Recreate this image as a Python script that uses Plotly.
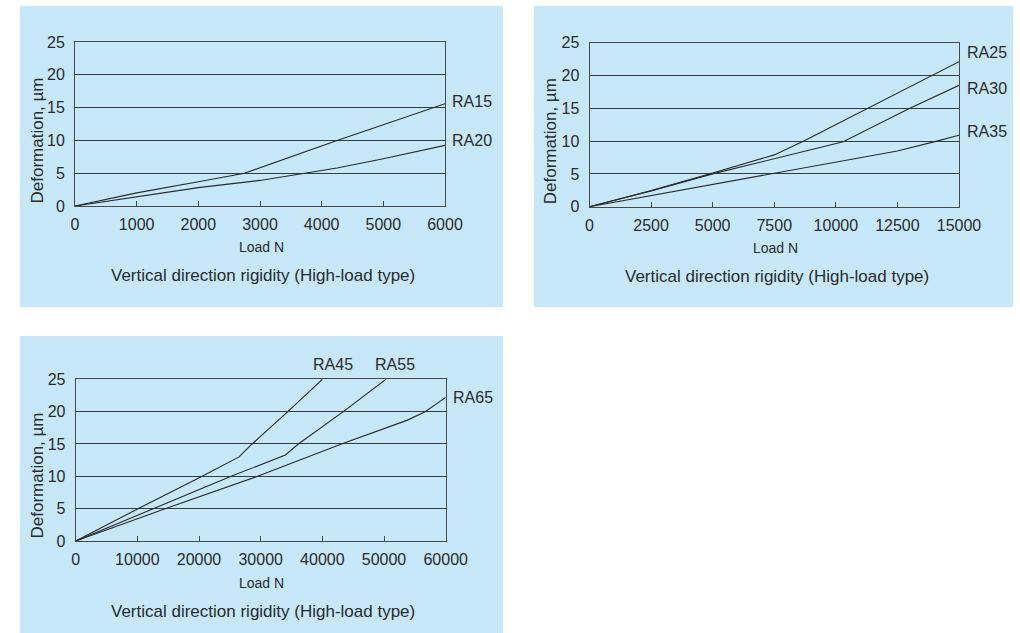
import plotly.graph_objects as go

# ---------------- data ----------------
# Panel 1 (RA15, RA20)
ra15_x = [0, 1000, 2000, 2750, 4250, 5000, 6000]
ra15_y = [0, 2.0, 3.7, 5.0, 10.0, 12.4, 15.6]
ra20_x = [0, 1000, 2000, 3000, 3700, 4250, 5000, 6000]
ra20_y = [0, 1.4, 2.8, 3.9, 5.0, 5.8, 7.2, 9.25]

# Panel 2 (RA25, RA30, RA35)
ra25_x = [0, 2500, 5000, 7500, 8700, 11300, 13900, 15000]
ra25_y = [0, 2.45, 5.15, 7.9, 10.0, 15.0, 20.0, 22.1]
ra30_x = [0, 2500, 5000, 7500, 10300, 12900, 15000]
ra30_y = [0, 2.4, 5.0, 7.35, 9.9, 14.8, 18.5]
ra35_x = [0, 2500, 5000, 7500, 10000, 12500, 14100, 15000]
ra35_y = [0, 1.7, 3.5, 5.1, 6.8, 8.5, 10.0, 10.9]

# Panel 3 (RA45, RA55, RA65)
ra45_x = [0, 10100, 20500, 25000, 26500, 28600, 34400, 40000]
ra45_y = [0, 5.0, 10.0, 12.25, 13.0, 15.0, 20.0, 25.0]
ra55_x = [0, 12500, 25200, 34000, 36100, 43400, 50300]
ra55_y = [0, 5.0, 10.0, 13.3, 15.0, 20.0, 25.0]
ra65_x = [0, 14500, 29500, 43100, 53700, 56600, 60000]
ra65_y = [0, 5.0, 10.0, 15.0, 18.65, 19.95, 22.2]

y_ticks = [0, 5, 10, 15, 20, 25]
x_ticks_1 = [0, 1000, 2000, 3000, 4000, 5000, 6000]
x_ticks_2 = [0, 2500, 5000, 7500, 10000, 12500, 15000]
x_ticks_3 = [0, 10000, 20000, 30000, 40000, 50000, 60000]

x_title = "Load N"
y_title = "Deformation, µm"
subtitle = "Vertical direction rigidity (High-load type)"

# ---------------- layout helpers ----------------
W, H = 1020, 633
BG = "#c6e8f8"
LINE = "#2a2a2a"
TXT = "#2b2b2b"
FONT = "Arial, Liberation Sans, Helvetica, sans-serif"


def px_x(p):
    return p / W


def px_y(p):
    return 1 - p / H


fig = go.Figure()

panels = [
    dict(ax="", box=(75, 445, 42, 206), bg=(20, 503, 6, 307),
         xr=6000, xt=x_ticks_1,
         series=[("RA15", ra15_x, ra15_y), ("RA20", ra20_x, ra20_y)],
         labels=[("RA15", 450, 101.7, "left"), ("RA20", 450, 140.7, "left")],
         title_y=(246.7, 275)),
    dict(ax="2", box=(589.5, 959, 42.7, 206.7), bg=(534, 1013, 6, 307),
         xr=15000, xt=x_ticks_2,
         series=[("RA25", ra25_x, ra25_y), ("RA30", ra30_x, ra30_y), ("RA35", ra35_x, ra35_y)],
         labels=[("RA25", 964.5, 52.3, "left"), ("RA30", 964.5, 88.3, "left"), ("RA35", 964.5, 131, "left")],
         title_y=(247.5, 276)),
    dict(ax="3", box=(75.7, 445.7, 379.3, 541), bg=(20, 503, 336, 633),
         xr=60000, xt=x_ticks_3,
         series=[("RA45", ra45_x, ra45_y), ("RA55", ra55_x, ra55_y), ("RA65", ra65_x, ra65_y)],
         labels=[("RA45", 332.7, 364.3, "center"), ("RA55", 395, 364.3, "center"), ("RA65", 450.5, 397.3, "left")],
         title_y=(583.3, 611)),
]

shapes = []
annotations = []
for p in panels:
    sfx = p["ax"]
    xa = "x" + sfx
    ya = "y" + sfx
    x0, x1, y0, y1 = p["box"]
    bx0, bx1, by0, by1 = p["bg"]
    shapes.append(dict(type="rect", xref="paper", yref="paper", layer="below",
                       x0=px_x(bx0), x1=px_x(bx1), y0=px_y(by1), y1=px_y(by0),
                       fillcolor=BG, line=dict(width=0)))
    for name, xs, ys in p["series"]:
        fig.add_trace(go.Scatter(x=xs, y=ys, mode="lines", name=name, xaxis=xa, yaxis=ya,
                                 line=dict(color=LINE, width=1.1), showlegend=False,
                                 hoverinfo="skip"))
    axis_common = dict(showline=True, mirror=True, linecolor="#4a4a4a", linewidth=1,
                       zeroline=False, automargin=False, fixedrange=True,
                       tickfont=dict(family=FONT, size=16, color=TXT))
    fig.layout["xaxis" + sfx] = dict(
        axis_common, domain=[px_x(x0), px_x(x1)], range=[0, p["xr"]],
        tickvals=p["xt"], ticktext=[str(v) for v in p["xt"]],
        ticks="inside", ticklen=5, tickcolor="#4a4a4a", tickwidth=1,
        showgrid=False, anchor=ya, ticklabelstandoff=4)
    fig.layout["yaxis" + sfx] = dict(
        axis_common, domain=[px_y(y1), px_y(y0)], range=[0, 25],
        tickvals=y_ticks, ticktext=[str(v) for v in y_ticks],
        ticks="", showgrid=True, gridcolor="#3a3a3a", gridwidth=1,
        anchor=xa, ticklabelstandoff=6)
    cx = (x0 + x1) / 2
    annotations.append(dict(text=x_title, xref="paper", yref="paper", x=px_x(cx + 1),
                            y=px_y(p["title_y"][0]), xanchor="center", yanchor="middle",
                            showarrow=False, font=dict(family=FONT, size=14, color=TXT)))
    annotations.append(dict(text=subtitle, xref="paper", yref="paper", x=px_x(cx + 2.5),
                            y=px_y(p["title_y"][1]), xanchor="center", yanchor="middle",
                            showarrow=False, font=dict(family=FONT, size=17, color=TXT)))
    annotations.append(dict(text=y_title, xref="paper", yref="paper", x=px_x(bx0 + 16.5),
                            y=px_y(y1), xanchor="center", yanchor="bottom", textangle=-90,
                            showarrow=False, font=dict(family=FONT, size=17, color=TXT)))
    for txt, lx, ly, anc in p["labels"]:
        annotations.append(dict(text=txt, xref="paper", yref="paper", x=px_x(lx),
                                y=px_y(ly), xanchor=anc, yanchor="middle", showarrow=False,
                                font=dict(family=FONT, size=16, color=TXT)))

fig.update_layout(width=W, height=H,
                  margin=dict(l=0, r=0, t=0, b=0, pad=0, autoexpand=False),
                  paper_bgcolor="white", plot_bgcolor="rgba(0,0,0,0)",
                  shapes=shapes, annotations=annotations, showlegend=False,
                  hovermode=False, dragmode=False)

fig.write_html("out.html", config={"displayModeBar": False, "staticPlot": True},
               post_script="document.body.style.margin='0';document.body.style.overflow='hidden';")
